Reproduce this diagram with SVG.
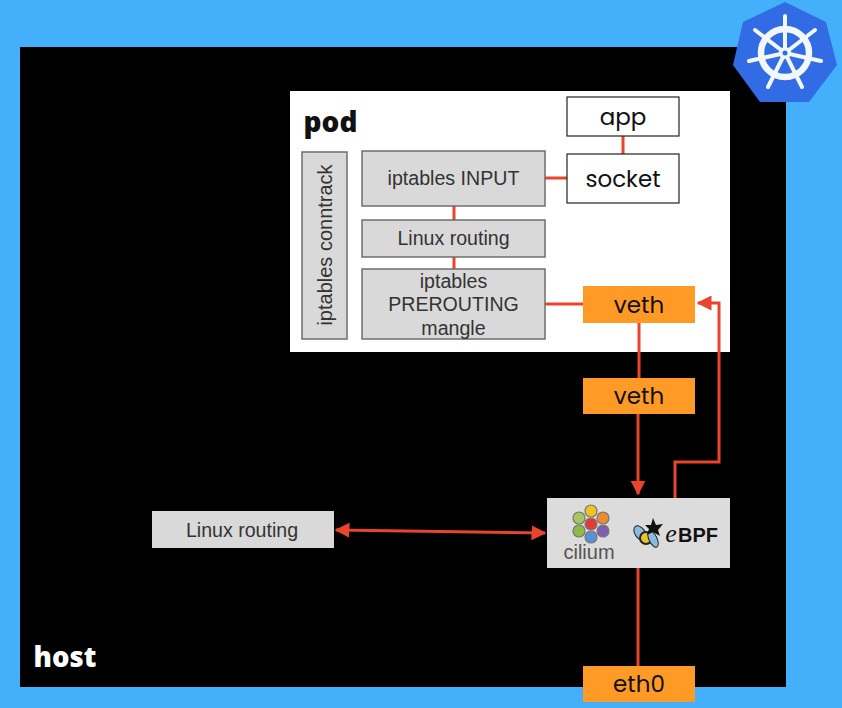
<svg xmlns="http://www.w3.org/2000/svg" width="842" height="708" viewBox="0 0 842 708">
<style>
.g{fill:#d9d9d9;stroke:#6e6e6e;stroke-width:1.5}
.w{fill:#fff;stroke:#222;stroke-width:1.2}
.o{fill:#ff9a26}
.c{fill:none;stroke:#e8452c;stroke-width:3}
text{font-family:"Liberation Sans",Arial,sans-serif;fill:#333;text-anchor:middle}
.t{font-size:19.6px}
.p{font-family:Poppins,"Open Sans","DejaVu Sans",sans-serif;fill:#111;font-size:23px}
.h{font-family:"Open Sans","DejaVu Sans",sans-serif;font-weight:800}
</style>
<defs>
<marker id="a" viewBox="0 0 10 10" refX="9" refY="5" markerWidth="5" markerHeight="5" orient="auto-start-reverse" markerUnits="strokeWidth"><path d="M0 0L10 5L0 10Z" fill="#e8452c"/></marker>
</defs>
<rect width="842" height="708" fill="#44b0fb"/>
<rect id="host" x="20" y="47" width="766" height="640" fill="#000"/>
<text class="h" x="65" y="667" font-size="27.5" style="fill:#fff">host</text>
<g id="k8s">
<path d="M785 2L826 22L837 65L809 102L760 102L733 65L743 22Z" fill="#326ce5"/>
<g fill="none" stroke="#f2f6fd">
<circle cx="785" cy="53" r="24" stroke-width="6.5"/>
<g stroke-width="4" stroke-linecap="round">
<path d="M785 53V16M785 53L815 30M785 53L821 61M785 53L802 87M785 53L768 87M785 53L749 61M785 53L755 30"/>
</g>
</g>
<circle cx="785" cy="53" r="6" fill="#f2f6fd"/><circle cx="785" cy="53" r="2.5" fill="#326ce5"/>
</g>
<g id="pod"><rect x="290" y="91" width="440" height="261" fill="#fff"/>
<text class="h" x="330.500" y="132" font-size="28" style="fill:#111">pod</text></g>
<g id="connectors">
<path class="c" d="M545 178H567M623 136V154M454 206V220M454 257V269M545 304H583"/>
<path class="c" d="M639 323V380"/>
<path class="c" d="M638 414V494" marker-end="url(#a)"/>
<path class="c" d="M675 498V462H719V303H698" marker-end="url(#a)"/>
<path class="c" d="M336 530L545 533" marker-start="url(#a)" marker-end="url(#a)"/>
<path class="c" d="M638 568V666"/>
</g>
<g id="conntrack"><rect class="g" x="302" y="152" width="45" height="187"/>
<text x="325" y="245" font-size="20" transform="rotate(-90 325 245) translate(0 7)">iptables conntrack</text></g>
<g id="input"><rect class="g" x="362" y="151" width="183" height="55"/><text class="t" x="453.500" y="185">iptables INPUT</text></g>
<g id="routing-pod"><rect class="g" x="362" y="220" width="183" height="37"/><text class="t" x="453.500" y="245">Linux routing</text></g>
<g id="prerouting"><rect class="g" x="362" y="269" width="183" height="70"/>
<text class="t" x="453.500" y="288">iptables</text><text class="t" x="453.500" y="311">PREROUTING</text><text class="t" x="453.500" y="335">mangle</text></g>
<g id="app"><rect class="w" x="567" y="97" width="112" height="39"/><text class="p" x="623" y="125">app</text></g>
<g id="socket"><rect class="w" x="567" y="154" width="112" height="49"/><text class="p" x="623" y="187">socket</text></g>
<g id="veth1"><rect class="o" x="583" y="286" width="112" height="37"/><text class="p" x="639" y="313">veth</text></g>
<g id="veth2"><rect class="o" x="583" y="378" width="112" height="36"/><text class="p" x="639" y="404">veth</text></g>
<g id="routing-host"><rect x="152" y="511" width="182" height="37" fill="#d9d9d9"/><text class="t" x="242" y="537">Linux routing</text></g>
<g id="cilium"><rect x="547" y="498" width="183" height="70" fill="#dcdcdc"/>
<g stroke="#777" stroke-width="1.2">
<circle cx="591" cy="511" r="6" fill="#f4c21f"/><circle cx="579" cy="518" r="6" fill="#a5c95f"/><circle cx="603" cy="518" r="6" fill="#ec8b2f"/>
<circle cx="591" cy="524" r="6" fill="#e33d32"/><circle cx="579" cy="531" r="6" fill="#8cbc45"/><circle cx="603" cy="531" r="6" fill="#7f5fb0"/><circle cx="591" cy="537" r="6" fill="#5b8fd6"/>
</g>
<text x="589" y="559" font-size="20" style="fill:#555">cilium</text>
<g><ellipse cx="640" cy="533" rx="5" ry="8" fill="#88bde0" stroke="#222" transform="rotate(-35 640 533)"/><circle cx="646" cy="538" r="6" fill="#e8c52c" stroke="#222" stroke-width="2"/><ellipse cx="653" cy="539" rx="4" ry="9" fill="#88bde0" stroke="#222" transform="rotate(-25 653 539)"/><path d="M653 518L656 525L663 524L658 530L660 536L653 532L647 535L649 529L645 525L651 525Z" fill="#111"/></g>
<text x="671" y="542" font-size="26" font-style="italic" style="fill:#111;font-family:'Liberation Serif',serif">e</text>
<text x="698" y="542" font-size="20" font-weight="700" style="fill:#111">BPF</text>
</g>
<g id="eth0"><rect class="o" x="583" y="666" width="112" height="36"/><text class="p" x="639" y="692">eth0</text></g>
</svg>
